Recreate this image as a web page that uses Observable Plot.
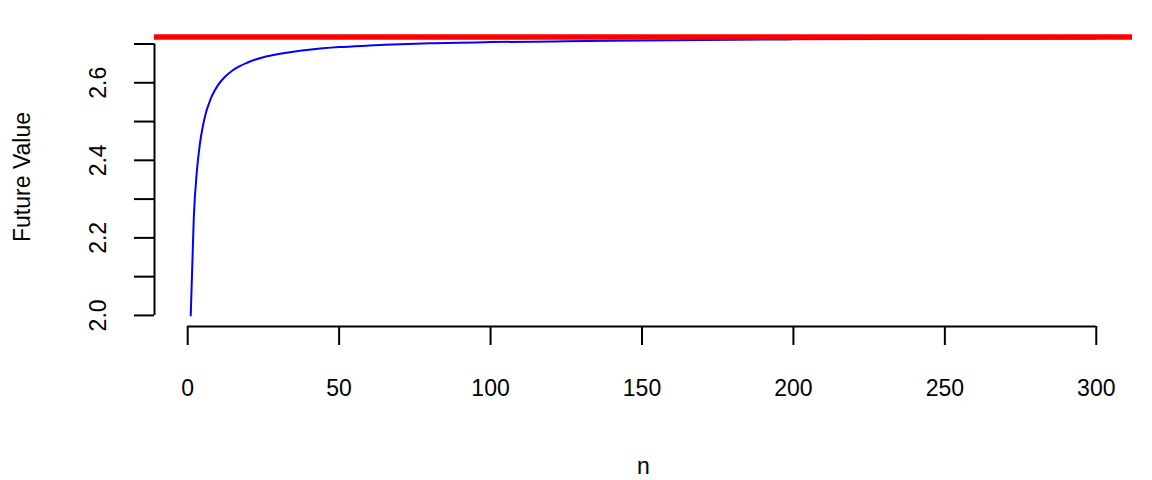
<!DOCTYPE html>
<html>
<head>
<meta charset="utf-8">
<script src="https://cdn.jsdelivr.net/npm/d3@7"></script>
<script src="https://cdn.jsdelivr.net/npm/@observablehq/plot@0.6"></script>
<style>
  html, body { margin: 0; padding: 0; background: #fff; }
  #chart svg { display: block; }
</style>
</head>
<body>
<div id="chart"></div>
<script>
// Data
const nValues = [1, 2, 3, 4, 5, 6, 7, 8, 10, 12, 15, 20, 25, 30, 40, 50, 60, 80, 100, 125, 150, 200, 250, 300];
const futureValues = [2.000, 2.250, 2.370, 2.441, 2.488, 2.522, 2.546, 2.566, 2.594, 2.613, 2.633, 2.653, 2.666, 2.674, 2.685, 2.692, 2.696, 2.702, 2.705, 2.707, 2.709, 2.712, 2.713, 2.714];
const limitValue = [2.718];
const xTicks = [0, 50, 100, 150, 200, 250, 300];
const yTicks = [2.0, 2.1, 2.2, 2.3, 2.4, 2.5, 2.6, 2.7];
const yLabelTicks = [2.0, 2.2, 2.4, 2.6];
const xTitle = "n";
const yTitle = "Future Value";

const series = nValues.map((n, i) => ({n, v: futureValues[i]}));

// R-style 4% axis extension
const xMin = d3.min(nValues), xMax = d3.max(nValues);
const yMin = d3.min(futureValues), yMax = d3.max(futureValues);
const xPad = (xMax - xMin) * 0.04, yPad = (yMax - yMin) * 0.04;
const xDomain = [xMin - xPad, xMax + xPad];
const yDomain = [yMin - yPad, yMax + yPad];

const font = "'Liberation Sans', Arial, Helvetica, sans-serif";
const fs = 23;

const chart = Plot.plot({
  width: 1152,
  height: 480,
  marginLeft: 154,
  marginRight: 20,
  marginTop: 27,
  marginBottom: 154,
  style: {fontFamily: font, fontSize: fs + "px", color: "black", background: "white"},
  x: {domain: xDomain},
  y: {domain: yDomain},
  marks: [
    // axis spines (R style: from first to last tick)
    Plot.ruleY([yDomain[0]], {x1: xTicks[0], x2: xTicks[xTicks.length - 1], stroke: "black", strokeWidth: 2}),
    Plot.ruleX([xDomain[0]], {y1: yTicks[0], y2: yTicks[yTicks.length - 1], stroke: "black", strokeWidth: 2}),
    Plot.axisX({ticks: xTicks, tickSize: 19, tickPadding: 34, strokeWidth: 2, label: null, fontSize: fs, tickFormat: d => String(d)}),
    Plot.axisY({ticks: yTicks, tickSize: 20, strokeWidth: 2, label: null, tickFormat: () => ""}),
    Plot.text(yLabelTicks, {y: d => d, text: d => d.toFixed(1), frameAnchor: "left", dx: -56, rotate: -90, textAnchor: "middle", lineAnchor: "middle", fontSize: fs, fill: "black"}),
    Plot.text([xTitle], {frameAnchor: "bottom", dy: 140, text: d => d, textAnchor: "middle", lineAnchor: "middle", fontSize: fs, fill: "black"}),
    Plot.text([yTitle], {frameAnchor: "left", dx: -132, text: d => d, rotate: -90, textAnchor: "middle", lineAnchor: "middle", fontSize: fs, fill: "black"}),
    Plot.line(series, {x: "n", y: "v", stroke: "blue", strokeWidth: 2, curve: "monotone-x"}),
    Plot.ruleY(limitValue, {stroke: "red", strokeWidth: 5.5})
  ]
});
document.getElementById("chart").appendChild(chart);
</script>
</body>
</html>
